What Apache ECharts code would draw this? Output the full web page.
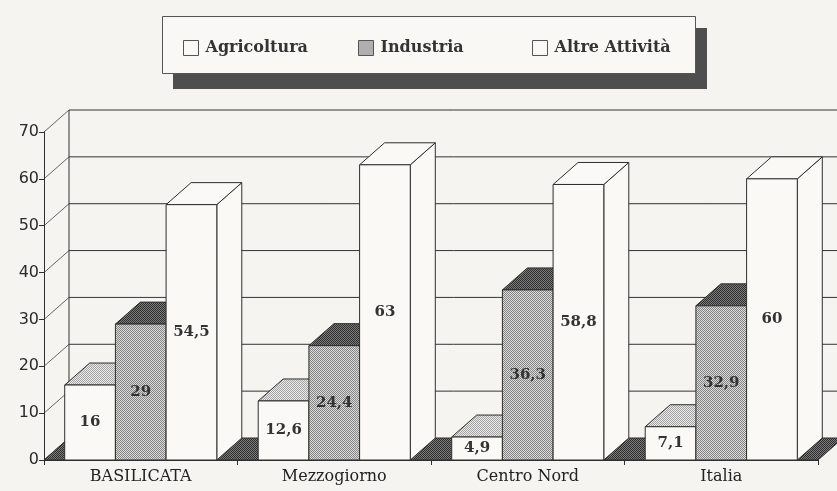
<!DOCTYPE html>
<html><head><meta charset="utf-8">
<script src="https://cdn.jsdelivr.net/npm/echarts@6/dist/echarts.min.js"></script>
<style>html,body{margin:0;padding:0;background:#f5f4f1;}#c{width:837px;height:491px;}</style>
</head><body><div id="c"></div>
<script>
// ---- data ----
const categories = ['BASILICATA', 'Mezzogiorno', 'Centro Nord', 'Italia'];
const seriesNames = ['Agricoltura', 'Industria', 'Altre Attività'];
const agricoltura = [16, 12.6, 4.9, 7.1];
const industria = [29, 24.4, 36.3, 32.9];
const altre = [54.5, 63, 58.8, 60];
const yTicks = [0, 10, 20, 30, 40, 50, 60, 70];

// ---- styling helpers ----
const DX = 25, DY = 22, BAR_FRAC = 0.262;
const LINE = '#2e2e2e';
const PAPER = '#f5f4f1', FACE = '#faf9f6';
function pattern(c1, c2) {
  const cv = document.createElement('canvas');
  cv.width = 2; cv.height = 2;
  const g = cv.getContext('2d');
  g.fillStyle = c2; g.fillRect(0, 0, 2, 2);
  g.fillStyle = c1; g.fillRect(0, 0, 1, 1); g.fillRect(1, 1, 1, 1);
  return { image: cv, repeat: 'repeat' };
}
const midPat = pattern('#858585', '#dadada');
const darkPat = pattern('#2e2e2e', '#7c7c7c');
const lightPat = pattern('#a2a2a2', '#ebebeb');
const faceStyles = [
  { front: FACE, top: lightPat, side: FACE },
  { front: midPat, top: darkPat, side: midPat },
  { front: FACE, top: FACE, side: FACE }
];
const legendFill = [FACE, midPat, FACE];
const seriesData = [agricoltura, industria, altre];
const fmt = v => String(v).replace('.', ',');

function barRenderer(si) {
  const f = faceStyles[si];
  return function (params, api) {
    const cat = api.value(0), val = api.value(1);
    const base = api.coord([cat, 0]);
    const top = api.coord([cat, val]);
    const band = api.size([1, 0])[0];
    const w = band * BAR_FRAC;
    const x0 = base[0] + (si - 1.5) * w, x1 = x0 + w;
    const yb = base[1], yt = top[1];
    const st = fill => ({ fill: fill, stroke: LINE, lineWidth: 1 });
    return {
      type: 'group',
      children: [
        { type: 'polygon', shape: { points: [[x1, yb], [x1, yt], [x1 + DX, yt - DY], [x1 + DX, yb - DY]] }, style: st(f.side) },
        { type: 'polygon', shape: { points: [[x0, yt], [x1, yt], [x1 + DX, yt - DY], [x0 + DX, yt - DY]] }, style: st(f.top) },
        { type: 'rect', shape: { x: x0, y: yt, width: w, height: yb - yt }, style: st(f.front) },
        { type: 'text', style: { text: fmt(val), x: (x0 + x1) / 2, y: (yt + yb) / 2,
            align: 'center', verticalAlign: 'middle', textAlign: 'center', textVerticalAlign: 'middle',
            font: 'bold 15px "DejaVu Serif"', fill: '#333' } }
      ]
    };
  };
}

function wallRenderer(params, api) {
  const b0 = api.coord([0, 0]);
  const band = api.size([1, 0])[0];
  const xL = b0[0] - band / 2;
  const xR = xL + band * categories.length;
  const ln = (x1, y1, x2, y2, c) => ({ type: 'line', shape: { x1, y1, x2, y2 }, style: { stroke: c || '#333', lineWidth: 1 } });
  const children = [];
  const yTop = api.coord([0, yTicks[yTicks.length - 1]])[1];
  yTicks.forEach(v => {
    const y = api.coord([0, v])[1];
    if (v > 0) children.push(ln(xL + DX, y - DY, xR + DX + 60, y - DY));
    children.push(ln(xL, y, xL + DX, y - DY, '#666'));
  });
  children.push(ln(xL + DX, b0[1] - DY, xL + DX, yTop - DY));
  children.push({ type: 'polygon', shape: { points: [[xL, b0[1]], [xR, b0[1]], [xR + DX, b0[1] - DY], [xL + DX, b0[1] - DY]] },
    style: { fill: darkPat, stroke: LINE, lineWidth: 1 } });
  return { type: 'group', children };
}

const series = [{
  type: 'custom', name: 'walls', renderItem: wallRenderer, data: [[0, 0]],
  encode: { x: 0, y: 1 }, silent: true, z: 1
}];
seriesNames.forEach((n, si) => {
  series.push({
    type: 'custom', name: n, renderItem: barRenderer(si),
    data: seriesData[si].map((v, i) => [i, v]), encode: { x: 0, y: 1 },
    itemStyle: { color: legendFill[si], borderColor: '#555', borderWidth: 1 }, z: 2
  });
});

const legendLeft = [178, 353, 527];
const legends = seriesNames.map((n, i) => ({
  data: [n], left: legendLeft[i], top: 35, itemWidth: 15, itemHeight: 15, itemGap: 8,
  icon: 'rect', selectedMode: false,
  itemStyle: { borderColor: '#555', borderWidth: 1 },
  textStyle: { fontFamily: 'DejaVu Serif', fontWeight: 'bold', fontSize: 16, color: '#333', padding: [0, 0, 0, 2] }
}));

const chart = echarts.init(document.getElementById('c'), null, { renderer: 'canvas' });
chart.setOption({
  backgroundColor: PAPER,
  animation: false,
  grid: { left: 44, right: 19, top: 132, bottom: 31, containLabel: false },
  xAxis: {
    type: 'category', data: categories, z: 10,
    axisLine: { show: true, lineStyle: { color: LINE, width: 1 } },
    axisTick: { show: true, length: 5, lineStyle: { color: LINE } },
    axisLabel: { fontFamily: 'DejaVu Serif', fontSize: 16, color: '#222', margin: 9 }
  },
  yAxis: {
    type: 'value', min: 0, max: 70, interval: 10, z: 10,
    axisLine: { show: true, lineStyle: { color: LINE, width: 1 } },
    axisTick: { show: true, length: 5, lineStyle: { color: LINE } },
    splitLine: { show: false },
    axisLabel: { fontFamily: 'DejaVu Sans', fontSize: 16, color: '#2a2a2a', margin: 5 }
  },
  legend: legends,
  graphic: [
    { type: 'rect', z: 1, shape: { x: 173, y: 28, width: 534, height: 61 }, style: { fill: '#4e4e4e' } },
    { type: 'rect', z: 1, shape: { x: 162.5, y: 16.5, width: 533, height: 57 }, style: { fill: '#f9f8f5', stroke: '#555', lineWidth: 1 } }
  ],
  series: series
});
</script></body></html>
